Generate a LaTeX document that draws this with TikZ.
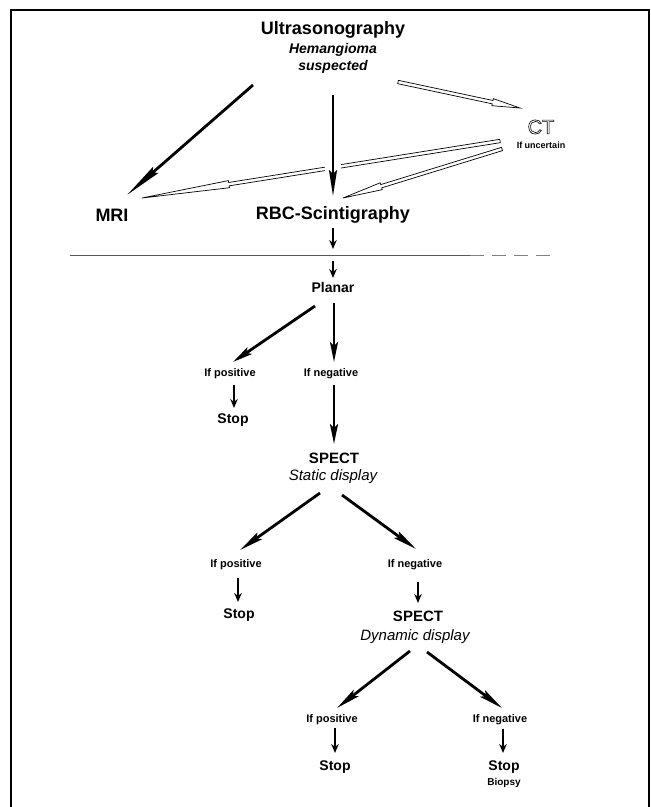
\documentclass[tikz,border=0pt]{standalone}
\usepackage{fontspec}
\setmainfont{Liberation Sans}
\usetikzlibrary{arrows.meta,calc}
\newcommand{\fs}[1]{\fontsize{#1}{#1}\selectfont}
% hollow (outlined) arrow from named coordinate #1 to named coordinate #2, tip length #3
\newcommand{\hollowarr}[3]{%
  \coordinate (hb) at ($(#2)!#3!(#1)$);
  \draw[hollowline] ($(#1)!1.7pt!90:(#2)$) -- ($(hb)!1.7pt!90:(#2)$) -- ($(hb)!3.6pt!90:(#2)$)
    -- (#2) -- ($(hb)!3.6pt!-90:(#2)$) -- ($(hb)!1.7pt!-90:(#2)$) -- ($(#1)!1.7pt!-90:(#2)$) -- cycle;
}
\tikzset{
  big/.style={inner sep=0pt, font=\bfseries\fs{18}},
  med/.style={inner sep=0pt, font=\bfseries\fs{14}},
  sml/.style={inner sep=0pt, font=\bfseries\fs{11}},
  tiny/.style={inner sep=0pt, font=\bfseries\fs{9}},
  ital/.style={inner sep=0pt, font=\bfseries\itshape\fs{14}},
  itreg/.style={inner sep=0pt, font=\itshape\fs{15}},
  thk/.style={line width=2.8pt, line cap=butt, -{Stealth[length=#1,width=8pt,inset=4pt]}},
  thk/.default=20pt,
  shortarr/.style={line width=2.8pt, -{Stealth[length=9pt,width=7.5pt]}},
  hollowline/.style={draw=black, fill=white, line width=0.7pt, line join=miter},
  frame/.style={line width=1.5pt},
}
\begin{document}
\begin{tikzpicture}[x=1pt,y=-1pt]
\useasboundingbox (0,0) rectangle (651,807);
% frame
\draw[frame] (11,807) -- (11,10) -- (649,10) -- (649,807);
% separator
\coordinate (sep) at (333,255);
\draw[gray!70!black, line width=0.9pt] (70,255) -- (470,255);
\draw[gray, line width=0.7pt, dash pattern=on 14pt off 8pt] (470,255) -- (557,255);

% nodes
\node[big] (us) at (333,30) {Ultrasonography};
\node[ital] (hem) at (333,50) {Hemangioma};
\node[ital] (susp) at (333,67) {suspected};
\node[inner sep=0pt, font=\fs{20}] (ct) at (541,127) {\special{pdf:literal direct 1 Tr 0.6 w}CT\special{pdf:literal direct 0 Tr}};
\node[tiny] (unc) at (541,145) {If uncertain};
\node[big] (mri) at (112,215) {MRI};
\node[big] (rbc) at (333,215) {RBC-Scintigraphy};
\node[med] (planar) at (333,287) {Planar};
\node[sml] (ip1) at (230,374) {If positive};
\node[sml] (in1) at (331,374) {If negative};
\node[med] (stop1) at (233,420) {Stop};
\node[big, font=\bfseries\fs{15}] (spect1) at (334,458) {SPECT};
\node[itreg] (static) at (333,477) {Static display};
\node[sml] (ip2) at (236,565) {If positive};
\node[sml] (in2) at (415,565) {If negative};
\node[med] (stop2) at (239,615) {Stop};
\node[big, font=\bfseries\fs{15}] (spect2) at (418,616) {SPECT};
\node[itreg] (dyn) at (415,637) {Dynamic display};
\node[sml] (ip3) at (332,720) {If positive};
\node[sml] (in3) at (500,720) {If negative};
\node[med] (stop3) at (335,767) {Stop};
\node[med] (stop4) at (504,767) {Stop};
\node[tiny, font=\bfseries\fs{10}] (biopsy) at (504,783) {Biopsy};

% hollow arrows (ends tied to the nodes)
\coordinate (usct1) at ($(susp)+(65,15)$);
\coordinate (usct2) at ($(ct)+(-21,-19)$);
\coordinate (ctmri1) at ($(unc)+(-41,-4)$);
\coordinate (ctmri2) at ($(mri)+(30,-17)$);
\coordinate (ctrbc1) at ($(unc)+(-39,4)$);
\coordinate (ctrbc2) at ($(rbc)+(10,-17)$);
\hollowarr{usct1}{usct2}{28pt}
\hollowarr{ctmri1}{ctmri2}{88pt}
\hollowarr{ctrbc1}{ctrbc2}{40pt}

% thick arrows
\draw[thk=38pt] ($(susp)+(-80,18)$) -- ($(mri)+(15,-20)$);
\draw[white, line width=16pt] ($(susp)+(0,28)$) -- ($(rbc)+(0,-38)$);
\draw[thk=26pt] ($(susp)+(0,28)$) -- ($(rbc)+(0,-19)$);
\draw[shortarr] ($(rbc)+(0,13)$) -- ($(sep)+(0,-6)$);
\draw[shortarr] ($(sep)+(0,6)$) -- ($(planar)+(0,-9)$);
\draw[thk] ($(planar)+(-18,19)$) -- ($(ip1)+(3,-12)$);
\draw[thk] ($(planar)+(1,16)$) -- ($(in1)+(3,-12)$);
\draw[shortarr] ($(ip1)+(4,11)$) -- ($(stop1)+(1,-12)$);
\draw[thk] ($(in1)+(3,11)$) -- ($(spect1)+(0,-14)$);
\draw[thk=24pt] ($(static)+(-13,16)$) -- ($(ip2)+(4,-15)$);
\draw[thk=24pt] ($(static)+(9,18)$) -- ($(in2)+(1,-16)$);
\draw[shortarr] ($(ip2)+(2,13)$) -- ($(stop2)+(-1,-13)$);
\draw[shortarr] ($(in2)+(3,17)$) -- ($(spect2)+(0,-13)$);
\draw[thk=24pt] ($(dyn)+(-5,14)$) -- ($(ip3)+(5,-12)$);
\draw[thk=24pt] ($(dyn)+(12,15)$) -- ($(in3)+(2,-12)$);
\draw[shortarr] ($(ip3)+(3,8)$) -- ($(stop3)+(0,-14)$);
\draw[shortarr] ($(in3)+(3,9)$) -- ($(stop4)+(-1,-14)$);
\end{tikzpicture}
\end{document}
